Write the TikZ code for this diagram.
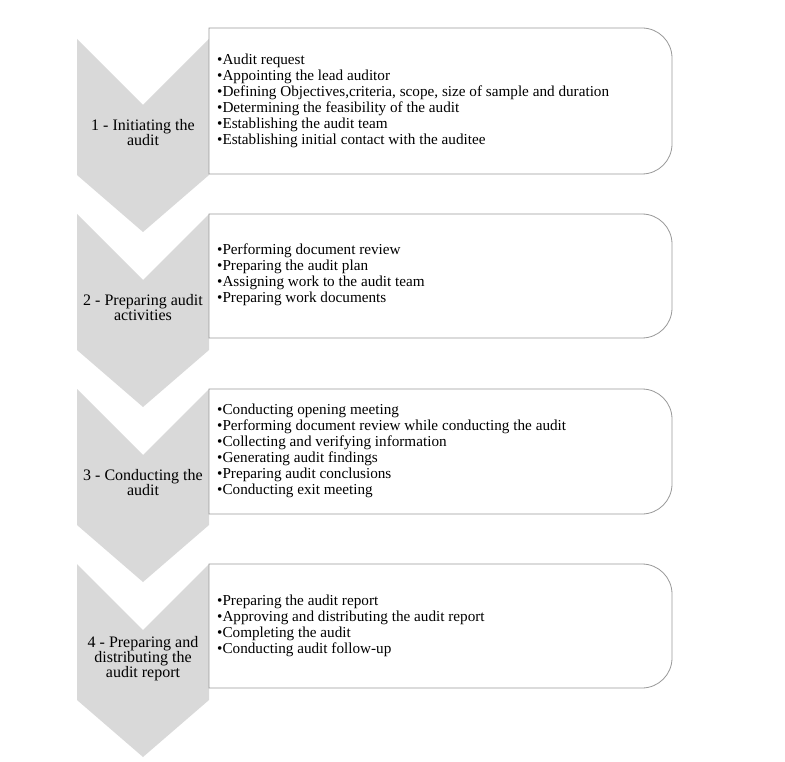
\documentclass[tikz,border=0pt]{standalone}
\usepackage{fontspec}
\setmainfont{Liberation Serif}
\begin{document}
\begin{tikzpicture}[x=1pt,y=-1pt,
  chev/.style={fill=black!15,draw=none},
  box/.style={draw=black!40,fill=white,line width=0.8pt},
  lab/.style={align=center,font=\fontsize{16}{15}\selectfont,inner sep=0},
  items/.style={align=left,anchor=west,font=\fontsize{15.2}{16}\selectfont,inner sep=0}]
\useasboundingbox[fill=white] (0,0) rectangle (785,762);
\foreach \t in {0,175,350,525}{
  \fill[chev] (77,39+\t) -- (143,105+\t) -- (209,39+\t) -- (209,175+\t) -- (143,232+\t) -- (77,175+\t) -- cycle;
}
\foreach \t/\b in {28/174,214/338,389/514,564/688}{
  \draw[box] (209,\t) -- (642,\t) arc[start angle=-90,end angle=0,radius=30] -- (672,\b-30) arc[start angle=0,end angle=90,radius=30] -- (209,\b) -- cycle;
}
\node[lab] (l1) at (143,133) {1 - Initiating the\\audit};
\node[lab] (l2) at (143,308) {2 - Preparing audit\\activities};
\node[lab] (l3) at (143,483) {3 - Conducting the\\audit};
\node[lab] (l4) at (143,659) {4 - Preparing and\\distributing the\\audit report};
\node[items] (t1) at (217,101) {•Audit request\\•Appointing the lead auditor\\•Defining Objectives,criteria, scope, size of sample and duration\\•Determining the feasibility of the audit\\•Establishing the audit team\\•Establishing initial contact with the auditee};
\node[items] (t2) at (217,275) {•Performing document review\\•Preparing the audit plan\\•Assigning work to the audit team\\•Preparing work documents};
\node[items] (t3) at (217,451) {•Conducting opening meeting\\•Performing document review while conducting the audit\\•Collecting and verifying information\\•Generating audit findings\\•Preparing audit conclusions\\•Conducting exit meeting};
\node[items] (t4) at (217,626) {•Preparing the audit report\\•Approving and distributing the audit report\\•Completing the audit\\•Conducting audit follow-up};
\end{tikzpicture}
\end{document}
